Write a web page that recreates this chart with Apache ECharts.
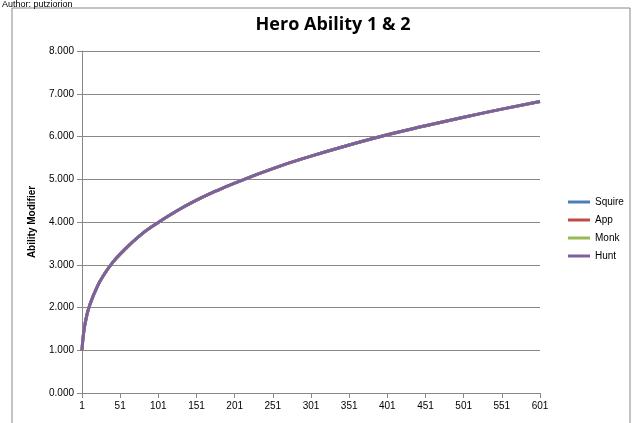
<!DOCTYPE html><html><head><meta charset="utf-8">
<script src="https://cdn.jsdelivr.net/npm/echarts@6/dist/echarts.min.js"></script>
<style>body{margin:0;background:#fff}#c{width:640px;height:423px}</style></head><body><div id="c"></div>
<script>
const seriesNames=['Squire','App','Monk','Hunt'];
const colors=['#4a7ebb','#be4b48','#98b954','#7d60a0'];
const xs=[1,3,6,11,21,31,41,51,76,101,126,151,176,201,251,301,351,401,451,501,551,601];
const ys=[1.0,1.39,1.71,2.05,2.49,2.80,3.05,3.25,3.67,3.99,4.27,4.51,4.72,4.91,5.25,5.54,5.80,6.04,6.25,6.45,6.64,6.82];
const pts=xs.map((x,i)=>[x,ys[i]]);
const ch=echarts.init(document.getElementById('c'));
ch.setOption({
 animation:false,
 graphic:[{type:'rect',shape:{x:12,y:8,width:618,height:430},style:{fill:'none',stroke:'#888',lineWidth:1}},
  {type:'text',left:2,top:0,style:{text:'Author: putziorion',fontSize:9,fill:'#000',fontFamily:'Liberation Sans'}}],
 title:{text:'Hero Ability 1 & 2',left:328,top:11,textAlign:'center',textStyle:{fontSize:18,fontWeight:'bold',fontFamily:'Open Sans',color:'#000'}},
 legend:{orient:'vertical',left:563,top:192,itemGap:8,itemWidth:22,itemHeight:3,icon:'rect',data:seriesNames,textStyle:{fontSize:10,color:'#000',fontFamily:'Liberation Sans'}},
 grid:{left:82,right:100,top:51,bottom:30},
 xAxis:{type:'value',min:1,max:601,interval:50,axisLine:{lineStyle:{color:'#888'}},axisTick:{show:true,lineStyle:{color:'#888'}},splitLine:{show:false},axisLabel:{color:'#000',fontSize:10,fontFamily:'Liberation Sans'}},
 yAxis:{type:'value',min:0,max:8,interval:1,name:'Ability Modifier',nameLocation:'middle',nameGap:45,nameTextStyle:{fontSize:10,color:'#000',fontWeight:'bold',fontFamily:'Liberation Sans'},
  axisLine:{show:true,lineStyle:{color:'#888'}},axisTick:{show:true,lineStyle:{color:'#888'}},splitLine:{lineStyle:{color:'#888'}},
  axisLabel:{color:'#000',fontSize:10,fontFamily:'Liberation Sans',formatter:v=>v.toFixed(3)}},
 series:seriesNames.map((n,i)=>({name:n,type:'line',data:pts,smooth:true,showSymbol:false,lineStyle:{width:3,color:colors[i]},itemStyle:{color:colors[i]}}))
});
</script></body></html>
